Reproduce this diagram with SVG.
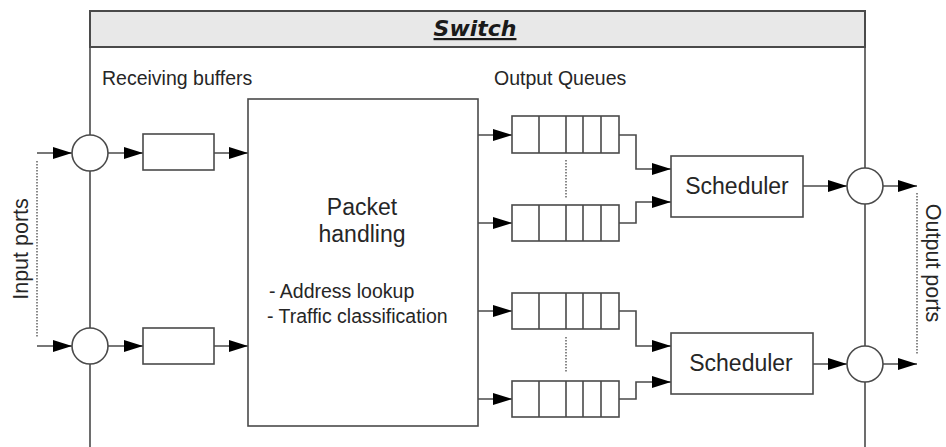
<svg xmlns="http://www.w3.org/2000/svg" width="946" height="447" viewBox="0 0 946 447">
<style>
.ln{stroke:#4a4a4a;stroke-width:1.6;fill:none}
.bx{stroke:#4a4a4a;stroke-width:1.6;fill:#fff}
.dot{stroke:#4a4a4a;stroke-width:1.3;stroke-dasharray:1.5 1.5;fill:none}
.t{font-family:"Liberation Sans",Arial,sans-serif;fill:#262626}
.lab{font-size:19.5px}
.big{font-size:23px;text-anchor:middle}
.port{font-size:21.5px;text-anchor:middle}
</style>
<defs>
<marker id="ah" markerUnits="userSpaceOnUse" markerWidth="19" markerHeight="12" refX="19" refY="6" orient="auto">
<path d="M0,0 L19,6 L0,12 z" fill="#000"/>
</marker>
</defs>
<g id="switch">
<path class="ln" d="M90,447 V11 H865 V447" stroke-width="2"/>
<rect x="90" y="11" width="775" height="36" fill="#e8e8e8" stroke="#4a4a4a" stroke-width="2"/>
<text x="475" y="36" text-anchor="middle" style="font-family:'DejaVu Sans',Verdana,sans-serif;font-size:22px;font-weight:bold;font-style:italic;text-decoration:underline;fill:#1a1a1a">Switch</text>
</g>
<g id="labels">
<text class="t lab" x="102" y="85">Receiving buffers</text>
<text class="t lab" x="494" y="85">Output Queues</text>
<text class="t port" transform="translate(28,249) rotate(-90)">Input ports</text>
<text class="t port" transform="translate(926,263) rotate(90)">Output ports</text>
<path class="dot" d="M37,161 V337"/>
<path class="dot" d="M917,193 V355"/>
</g>
<g id="connectors">
<path class="ln" marker-end="url(#ah)" d="M37,153 H72"/>
<path class="ln" marker-end="url(#ah)" d="M108,153 H143"/>
<path class="ln" marker-end="url(#ah)" d="M214,153 H248"/>
<path class="ln" marker-end="url(#ah)" d="M37,346 H72"/>
<path class="ln" marker-end="url(#ah)" d="M108,346 H143"/>
<path class="ln" marker-end="url(#ah)" d="M214,346 H248"/>
<path class="ln" marker-end="url(#ah)" d="M478,135 H512"/>
<path class="ln" marker-end="url(#ah)" d="M478,223 H512"/>
<path class="ln" marker-end="url(#ah)" d="M478,311 H512"/>
<path class="ln" marker-end="url(#ah)" d="M478,399 H512"/>
<path class="ln" marker-end="url(#ah)" d="M619,135 H636 V169 H671"/>
<path class="ln" marker-end="url(#ah)" d="M619,223 H636 V202 H671"/>
<path class="ln" marker-end="url(#ah)" d="M619,311 H636 V346 H671"/>
<path class="ln" marker-end="url(#ah)" d="M619,399 H636 V382 H671"/>
<path class="ln" marker-end="url(#ah)" d="M803,186 H847"/>
<path class="ln" marker-end="url(#ah)" d="M813,364 H847"/>
<path class="ln" marker-end="url(#ah)" d="M883,186 H917"/>
<path class="ln" marker-end="url(#ah)" d="M883,364 H917"/>
</g>
<g id="in-port-1"><circle class="bx" cx="90" cy="153" r="18"/></g>
<g id="in-port-2"><circle class="bx" cx="90" cy="346" r="18"/></g>
<g id="out-port-1"><circle class="bx" cx="865" cy="186" r="18"/></g>
<g id="out-port-2"><circle class="bx" cx="865" cy="364" r="18"/></g>
<g id="buffer-1"><rect class="bx" x="143" y="134" width="71" height="36"/></g>
<g id="buffer-2"><rect class="bx" x="143" y="328" width="71" height="36"/></g>
<g id="packet-handling">
<rect class="bx" x="248" y="99" width="230" height="327"/>
<text class="t big" x="362" y="215">Packet</text>
<text class="t big" x="362" y="242">handling</text>
<text class="t lab" x="269" y="298">- Address lookup</text>
<text class="t lab" x="267" y="323">- Traffic classification</text>
</g>
<g id="queue-1"><rect class="bx" x="512" y="116" width="107" height="37"/><path class="ln" d="M539,116V153M566,116V153M583,116V153M601,116V153"/></g>
<g id="queue-2"><rect class="bx" x="512" y="205" width="107" height="36"/><path class="ln" d="M539,205V241M566,205V241M583,205V241M601,205V241"/></g>
<g id="queue-3"><rect class="bx" x="512" y="293" width="107" height="36"/><path class="ln" d="M539,293V329M566,293V329M583,293V329M601,293V329"/></g>
<g id="queue-4"><rect class="bx" x="512" y="381" width="107" height="36"/><path class="ln" d="M539,381V417M566,381V417M583,381V417M601,381V417"/></g>
<g id="queue-dots"><path class="dot" d="M566,160V198M566,337V372"/></g>
<g id="scheduler-1"><rect class="bx" x="671" y="156" width="132" height="61"/><text class="t big" x="737" y="194">Scheduler</text></g>
<g id="scheduler-2"><rect class="bx" x="671" y="333" width="142" height="61"/><text class="t big" x="741" y="371">Scheduler</text></g>
</svg>
